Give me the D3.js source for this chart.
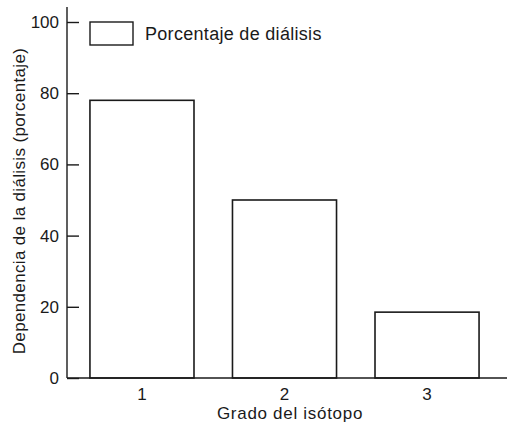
<!DOCTYPE html>
<html>
<head>
<meta charset="utf-8">
<script src="https://cdn.jsdelivr.net/npm/d3@7"></script>
<style>
  html, body { margin: 0; padding: 0; background: #fff; }
  svg { display: block; }
  text { font-family: "Liberation Sans", Arial, Helvetica, sans-serif; fill: #1a1a1a; }
</style>
</head>
<body>
<svg id="chart" width="508" height="426"></svg>
<script>
// Isotope grade vs. dialysis dependence
const grades = ["1", "2", "3"];
const dialysisPct = [78, 50, 18.5];
const yTicks = [0, 20, 40, 60, 80, 100];
const seriesName = "Porcentaje de diálisis";
const xTitle = "Grado del isótopo";
const yTitle = "Dependencia de la diálisis (porcentaje)";

const svg = d3.select("#chart");
const axisX = 67, baseY = 378, topY = 22;
const ink = "#1a1a1a";

const x = d3.scaleBand()
  .domain(grades)
  .range([67, 502])
  .paddingInner(0.27)
  .paddingOuter(0.161);

const y = d3.scaleLinear().domain([0, 100]).range([baseY, topY]);

// Bars
svg.append("g").selectAll("rect")
  .data(grades.map((g, i) => ({ g, v: dialysisPct[i] })))
  .join("rect")
  .attr("x", d => x(d.g))
  .attr("y", d => y(d.v))
  .attr("width", x.bandwidth())
  .attr("height", d => y(0) - y(d.v))
  .attr("fill", "#fff")
  .attr("stroke", ink)
  .attr("stroke-width", 1.6);

// Y axis with inward ticks
const yAxis = d3.axisRight(y).tickValues(yTicks).tickSize(12).tickFormat("");
const gy = svg.append("g").attr("transform", `translate(${axisX},0)`).call(yAxis);
gy.select(".domain").remove();
gy.selectAll(".tick line").attr("stroke", ink).attr("stroke-width", 1.4);
svg.append("line")
  .attr("x1", axisX).attr("x2", axisX)
  .attr("y1", 7).attr("y2", baseY)
  .attr("stroke", ink).attr("stroke-width", 1.4);

// Y tick labels
svg.append("g").selectAll("text")
  .data(yTicks)
  .join("text")
  .attr("x", axisX - 8)
  .attr("y", d => y(d))
  .attr("dy", "0.35em")
  .attr("text-anchor", "end")
  .attr("font-size", 17)
  .text(d => d);

// Baseline
svg.append("line")
  .attr("x1", axisX).attr("x2", 507)
  .attr("y1", baseY).attr("y2", baseY)
  .attr("stroke", ink).attr("stroke-width", 1.4);

// X tick labels
svg.append("g").selectAll("text")
  .data(grades)
  .join("text")
  .attr("x", d => x(d) + x.bandwidth() / 2)
  .attr("y", baseY + 22)
  .attr("text-anchor", "middle")
  .attr("font-size", 17)
  .text(d => d);

// Axis titles
svg.append("text")
  .attr("x", 290).attr("y", 419)
  .attr("text-anchor", "middle")
  .attr("font-size", 17)
  .attr("letter-spacing", 0.7)
  .text(xTitle);

svg.append("text")
  .attr("transform", "translate(25,201) rotate(-90)")
  .attr("text-anchor", "middle")
  .attr("font-size", 17)
  .attr("letter-spacing", 0.35)
  .text(yTitle);

// Legend
const lg = svg.append("g").attr("transform", "translate(90,22)");
lg.append("rect")
  .attr("width", 43).attr("height", 23)
  .attr("fill", "#fff").attr("stroke", ink).attr("stroke-width", 1.4);
lg.append("text")
  .attr("x", 55).attr("y", 12)
  .attr("dy", "0.35em")
  .attr("font-size", 18)
  .attr("letter-spacing", 0.3)
  .text(seriesName);
</script>
</body>
</html>
